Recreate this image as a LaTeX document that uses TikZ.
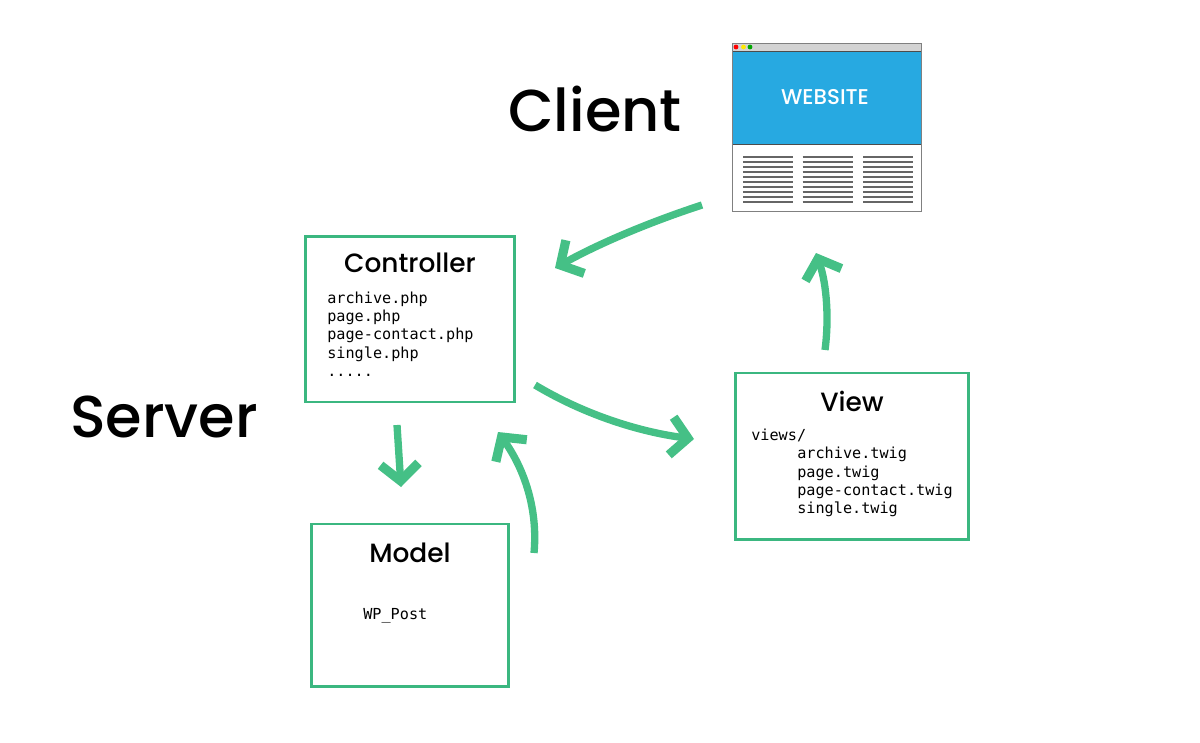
\documentclass[tikz,border=0pt]{standalone}
\usepackage{fontspec}
\setmainfont{Poppins Medium}
\newfontfamily\codefont{DejaVu Sans Mono}
\usetikzlibrary{arrows.meta}
\definecolor{boxgreen}{HTML}{3BB780}
\definecolor{arrowgreen}{HTML}{45C086}
\definecolor{webblue}{HTML}{27A9E1}
\definecolor{barbgray}{HTML}{D3D3D3}
\tikzset{
    box/.style={draw=boxgreen, line width=1.8pt, anchor=north west, inner sep=0pt},
    title/.style={font=\fontsize{18.8}{20}\selectfont},
    side/.style={font=\fontsize{42}{44}\selectfont},
    code/.style={font=\codefont\fontsize{10.8}{13}\selectfont, align=left, anchor=north west, inner sep=0pt},
    flow/.style={draw=arrowgreen, line width=5.2pt, -{Straight Barb[length=12pt, width=27pt, line width=6.5pt]}},
}
\begin{document}
\begin{tikzpicture}[x=0.025cm, y=-0.025cm]
        \useasboundingbox (0, 0) rectangle (1200, 742);

        \node[side] (client) at (595, 109) {Client};
        \node[side] (server) at (164, 417) {Server};

        % browser window
        \node[fill=white, outer sep=0pt, anchor=north west, inner sep=0pt, minimum width=190*0.711pt, minimum height=169*0.711pt] (website) at (732, 43) {};
        \fill[barbgray] (732, 43) rectangle (922, 51);
        \fill[webblue] (732, 51) rectangle (922, 144);
        \draw[black!70, line width=0.7pt] (732, 51) -- (922, 51);
        \draw[black!70, line width=0.7pt] (732, 144) -- (922, 144);
        \draw[gray, line width=0.7pt] (website.north west) rectangle (website.south east);
        \fill[red] (736, 47) circle (2.4);
        \fill[yellow!90!orange] (743.5, 47) circle (2.4);
        \fill[green!65!black] (750, 47) circle (2.4);
        \node[white] (websitelabel) at (825, 97.5) {\fontsize{15.2}{16}\selectfont WEBSITE};
        \foreach \col in {743, 802.5, 863} {
            \foreach \row in {0, ..., 9} {
                \draw[black!60, line width=1.2pt] (\col, 156.8 + 5.06*\row) -- ++(50, 0);
            }
        }

        % controller
        \node[box, minimum width=209*0.711pt, minimum height=165.8*0.711pt] (controller) at (304.3, 235) {};
        \node[title] (controllertitle) at (410, 263) {Controller};
        \node[code] (controllerfiles) at (327, 291.5) {archive.php\\page.php\\page-contact.php\\single.php\\.....};

        % model
        \node[box, minimum width=197*0.711pt, minimum height=162.8*0.711pt] (model) at (310, 522.7) {};
        \node[title] (modeltitle) at (410, 553) {Model};
        \node[code] (modelfiles) at (363, 608) {WP\_Post};

        % view
        \node[box, minimum width=233.5*0.711pt, minimum height=166.8*0.711pt] (view) at (734, 371.7) {};
        \node[title] (viewtitle) at (852, 401) {View};
        \node[code] (viewdir) at (751, 428.5) {views/};
        \node[code] (viewfiles) at (797, 447) {archive.twig\\page.twig\\page-contact.twig\\single.twig};

        \coordinate (clientout) at (702, 205);
        \coordinate (controllerin) at (555, 268);
        \coordinate (controllerout) at (535, 385);
        \coordinate (viewin) at (694, 439);
        \coordinate (modeltop) at (397, 425);
        \coordinate (modelin) at (401, 487);
        \coordinate (modelout) at (534, 553);
        \coordinate (controllerback) at (498, 432);
        \coordinate (viewout) at (825, 350);
        \coordinate (websitein) at (816, 253);

        \draw[flow] (clientout) .. controls (650, 222) and (600, 243) .. (controllerin);
        \draw[flow] (controllerout) .. controls (585, 415) and (640, 432) .. (viewin);
        \draw[flow] (modeltop) -- (modelin);
        \draw[flow] (modelout) .. controls (538, 510) and (525, 470) .. (controllerback);
        \draw[flow] (viewout) .. controls (829, 320) and (827, 285) .. (websitein);
    \end{tikzpicture}
\end{document}
